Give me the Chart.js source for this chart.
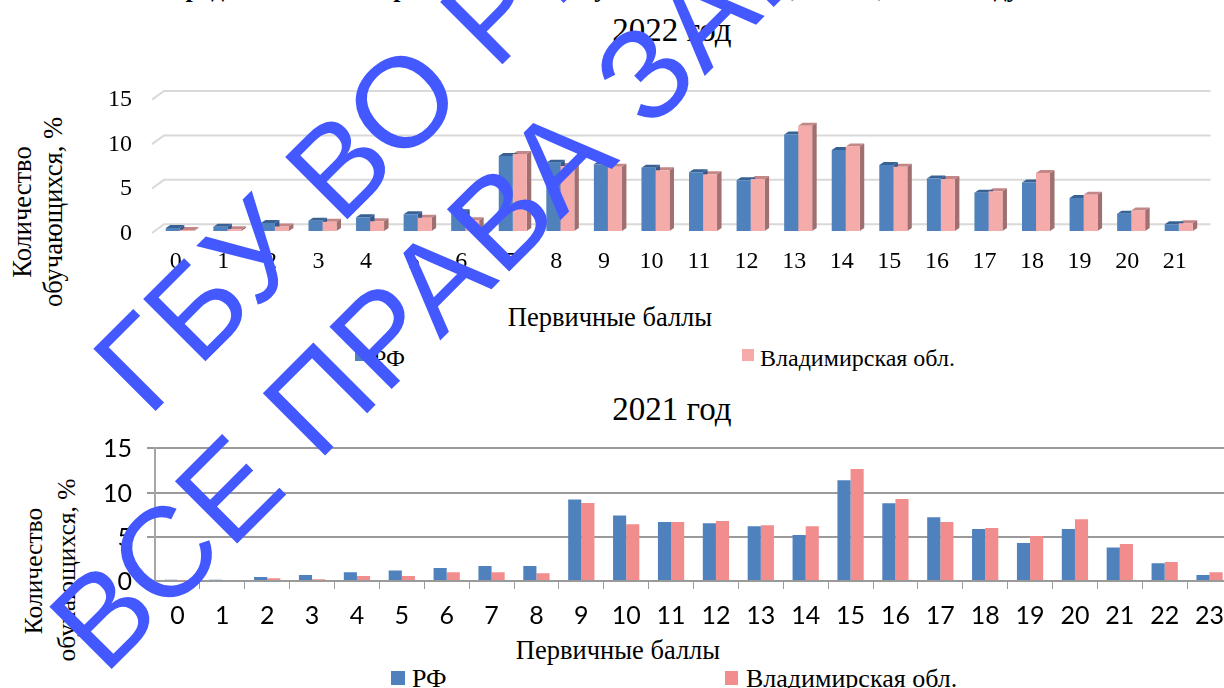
<!DOCTYPE html>
<html lang="ru">
<head>
<meta charset="utf-8">
<script src="https://cdn.jsdelivr.net/npm/chart.js@4/dist/chart.umd.min.js"></script>
<style>
html,body{margin:0;padding:0;background:#fff;width:1224px;height:688px;overflow:hidden}
#stage{position:relative;width:1224px;height:688px;overflow:hidden;font-family:"Liberation Serif",serif;color:#000}
canvas{position:absolute;display:block}
.t{position:absolute;white-space:nowrap;transform:translate(-50%,-50%);line-height:1}
.r{transform:translate(-50%,-50%) rotate(-90deg)}
.l{position:absolute;white-space:nowrap;transform:translateY(-50%);line-height:1;font-size:24px}
.b{position:absolute;width:12px;height:12px}
.w{position:absolute;white-space:nowrap;font-family:"Liberation Sans",sans-serif;font-size:128px;line-height:1;color:#4359ff;transform-origin:0 0.83em;transform:rotate(-45deg);z-index:5}
</style>
</head>
<body>
<div id="stage">
<div class="l" style="left:130px;top:-24px;font-size:26px;font-weight:bold;transform:none;line-height:1">Распределение всех первичных баллов участников ОГЭ, 2022 г., в 2021 году</div>
<div class="t" style="left:672px;top:30px;font-size:33px">2022 год</div>
<div class="t r" style="left:22px;top:212px;font-size:26.5px">Количество</div>
<div class="t r" style="left:53px;top:212px;font-size:26.5px">обучающихся, %</div>
<canvas id="c1" width="1224" height="200" style="left:0;top:80px"></canvas>
<div class="t" style="left:610px;top:317px;font-size:26.5px">Первичные баллы</div>
<div class="b" style="left:355px;top:349px;background:#4f81bd"></div><div class="l" style="left:373px;top:358px">РФ</div>
<div class="b" style="left:742px;top:349px;background:#f4abaa"></div><div class="l" style="left:760px;top:358px">Владимирская обл.</div>

<div class="t" style="left:672px;top:409px;font-size:33px">2021 год</div>
<div class="t r" style="left:34px;top:571px;font-size:25.5px">Количество</div>
<div class="t r" style="left:67px;top:570px;font-size:25.5px">обучающихся, %</div>
<canvas id="c2" width="1240" height="200" style="left:0;top:430px"></canvas>
<div class="t" style="left:618px;top:650px;font-size:26.5px">Первичные баллы</div>
<div class="b" style="left:391px;top:671px;width:14px;height:14px;background:#4f81bd"></div><div class="l" style="left:412px;top:679px;font-size:26px">РФ</div>
<div class="b" style="left:725px;top:671px;width:13px;height:14px;background:#f28d8d"></div><div class="l" style="left:746px;top:679px;font-size:26px">Владимирская обл.</div>

<div class="w" style="left:147px;top:calc(417px - 0.83em);letter-spacing:1px">ГБУ ВО РЦОКО</div>
<div class="w" style="left:103px;top:calc(675px - 0.83em);letter-spacing:1.9px">ВСЕ ПРАВА ЗАЩИЩЕНЫ</div>
</div>
<script>
const categories2022 = ["0","1","2","3","4","5","6","7","8","9","10","11","12","13","14","15","16","17","18","19","20","21"];
const rf2022 =   [0.33,0.48,0.9,1.16,1.54,1.88,2.1,8.44,7.69,7.5,7.12,6.6,5.72,10.87,9.11,7.42,5.92,4.31,5.47,3.71,1.95,0.75];
const vlad2022 = [0.12,0.2,0.52,1.05,1.1,1.5,1.2,8.66,7.3,7.24,6.84,6.38,5.85,11.85,9.52,7.24,5.85,4.46,6.52,4.09,2.32,0.86];
const categories2021 = ["0","1","2","3","4","5","6","7","8","9","10","11","12","13","14","15","16","17","18","19","20","21","22","23"];
const rf2021 =   [0.15,0.15,0.45,0.68,1.0,1.2,1.47,1.7,1.7,9.2,7.39,6.67,6.52,6.18,5.2,11.38,8.78,7.2,5.88,4.3,5.88,3.8,2.0,0.68];
const vlad2021 = [0.05,0.1,0.3,0.2,0.57,0.57,1.0,1.0,0.87,8.82,6.41,6.67,6.78,6.3,6.18,12.66,9.27,6.67,6.0,5.09,6.97,4.18,2.15,1.0];
const seriesNames = ["РФ","Владимирская обл."];
const gridValues = [0,5,10,15];

const pseudo3d = {
  id:'pseudo3d',
  beforeDatasetsDraw(chart){
    const {ctx,scales:{x,y}} = chart;
    const dx=4.5, dy=3, gx=8, gy=6.7, sx=4;
    ctx.save();
    ctx.strokeStyle='#d9d9d9'; ctx.lineWidth=2;
    gridValues.forEach(v=>{
      const p=y.getPixelForValue(v);
      ctx.beginPath();
      ctx.moveTo(x.left-sx,p+2);
      ctx.lineTo(x.left+gx,p-gy);
      ctx.lineTo(x.right+gx,p-gy);
      ctx.stroke();
    });
    const faces=[['#c48686','#a07070'],['#386294','#34598a']];
    [1,0].forEach(i=>{
      const meta=chart.getDatasetMeta(i);
      meta.data.forEach(b=>{
        const l=b.x-b.width/2, r=b.x+b.width/2;
        ctx.fillStyle=faces[i===1?0:1][0];
        ctx.beginPath();ctx.moveTo(l,b.y);ctx.lineTo(l+dx,b.y-dy);ctx.lineTo(r+dx,b.y-dy);ctx.lineTo(r,b.y);ctx.closePath();ctx.fill();
        ctx.fillStyle=faces[i===1?0:1][1];
        ctx.beginPath();ctx.moveTo(r,b.y);ctx.lineTo(r+dx,b.y-dy);ctx.lineTo(r+dx,b.base-dy);ctx.lineTo(r,b.base);ctx.closePath();ctx.fill();
      });
    });
    ctx.restore();
  }
};

const serif='"Liberation Serif",serif';
new Chart(document.getElementById('c1'),{
  type:'bar',
  data:{labels:categories2022,datasets:[
    {label:seriesNames[0],data:rf2022,backgroundColor:'#4f81bd',categoryPercentage:0.589,barPercentage:1},
    {label:seriesNames[1],data:vlad2022,backgroundColor:'#f4abaa',categoryPercentage:0.589,barPercentage:1}
  ]},
  plugins:[pseudo3d],
  options:{
    responsive:false,animation:false,
    layout:{padding:{top:17.67,right:21.5,left:0,bottom:0}},
    plugins:{legend:{display:false},title:{display:false},tooltip:{enabled:false}},
    scales:{
      x:{grid:{display:false},border:{display:false},
        ticks:{color:'#000',font:{family:serif,size:24},padding:8,labelOffset:-4,autoSkip:false,maxRotation:0,minRotation:0},
        afterFit(s){s.height=49;s.paddingLeft=0;s.paddingRight=0;}},
      y:{min:0,max:15,grid:{display:false},border:{display:false},
        ticks:{color:'#000',stepSize:5,font:{family:serif,size:24},padding:16,labelOffset:2.5},
        afterFit(s){s.width=156;s.paddingTop=0;s.paddingBottom=0;}}
    }
  }
});
new Chart(document.getElementById('c2'),{
  type:'bar',
  data:{labels:categories2021,datasets:[
    {label:seriesNames[0],data:rf2021,backgroundColor:'#4f81bd',categoryPercentage:0.585,barPercentage:1},
    {label:seriesNames[1],data:vlad2021,backgroundColor:'#f28d8d',categoryPercentage:0.585,barPercentage:1}
  ]},
  options:{
    responsive:false,animation:false,
    layout:{padding:{top:18.3,right:8,left:0,bottom:0}},
    plugins:{legend:{display:false},title:{display:false},tooltip:{enabled:false}},
    scales:{
      x:{grid:{drawOnChartArea:false,drawTicks:true,tickLength:8,offset:true,color:'#9a9a9a',lineWidth:1},
        border:{color:'#9a9a9a',width:2},
        ticks:{color:'#000',font:{family:'Lato,sans-serif',size:25},padding:12,autoSkip:false,maxRotation:0,minRotation:0},
        afterFit(s){s.height=49;s.paddingLeft=0;s.paddingRight=0;}},
      y:{min:0,max:15,grid:{color:'#9a9a9a',lineWidth:2,drawTicks:true,tickLength:8},
        border:{color:'#a6a6a6',width:2},
        ticks:{color:'#000',stepSize:5,font:{family:'Lato,sans-serif',size:25},padding:15,labelOffset:1},
        afterFit(s){s.width=155;s.paddingTop=0;s.paddingBottom=0;}}
    }
  }
});
</script>
</body>
</html>
